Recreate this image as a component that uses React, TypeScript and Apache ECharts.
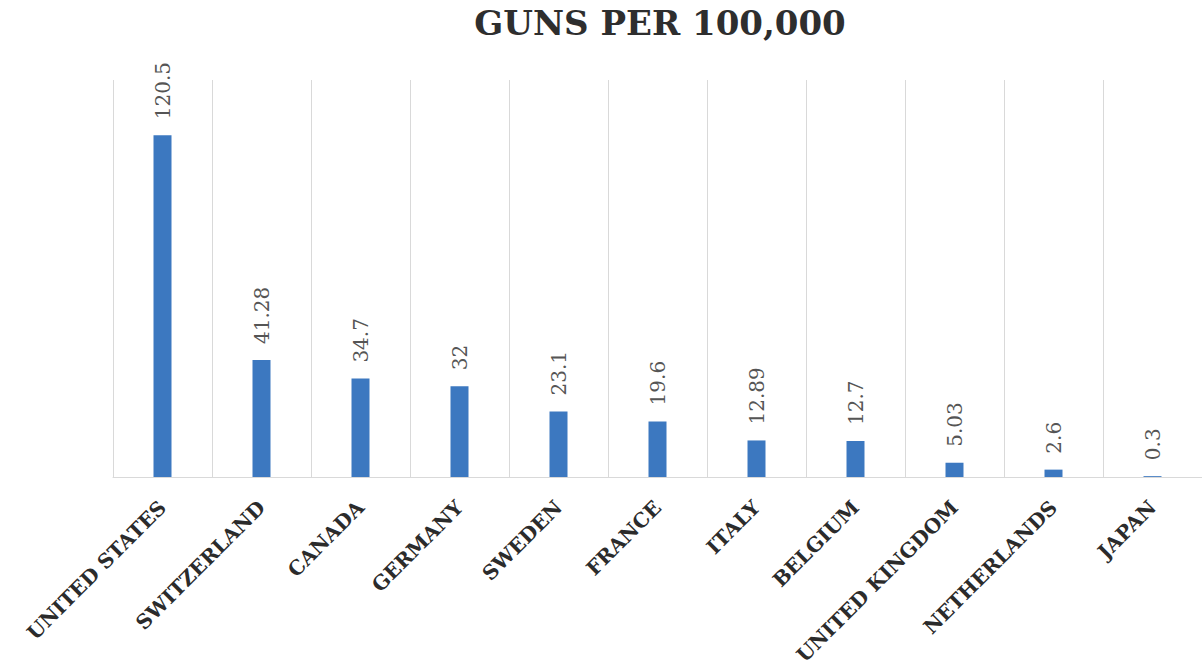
import React, { useEffect, useRef } from "react";
import * as echarts from "echarts";

const categories = [
  "UNITED STATES",
  "SWITZERLAND",
  "CANADA",
  "GERMANY",
  "SWEDEN",
  "FRANCE",
  "ITALY",
  "BELGIUM",
  "UNITED KINGDOM",
  "NETHERLANDS",
  "JAPAN",
];
const values = [120.5, 41.28, 34.7, 32, 23.1, 19.6, 12.89, 12.7, 5.03, 2.6, 0.3];
const titleText = "GUNS PER 100,000";

export default function App() {
  const ref = useRef<HTMLDivElement>(null);
  useEffect(() => {
    if (!ref.current) return;
    const chart = echarts.init(ref.current, undefined, { renderer: "svg" });
    chart.setOption({
      animation: false,
      backgroundColor: "#ffffff",
      title: {
        text: titleText,
        left: 655,
        textAlign: "center",
        top: 1,
        textStyle: {
          fontFamily: "DejaVu Serif",
          fontWeight: "bold",
          fontSize: 34,
          color: "#2e2e2e",
        },
      },
      grid: { left: 113, right: 0, top: 80, bottom: 194 },
      xAxis: {
        type: "category",
        data: categories,
        axisLine: { show: true, lineStyle: { color: "#d9d9d9", width: 1 } },
        axisTick: { show: false },
        splitLine: { show: true, lineStyle: { color: "#d9d9d9", width: 1 } },
        axisLabel: {
          rotate: 45,
          interval: 0,
          margin: 27,
          fontFamily: "DejaVu Serif",
          fontWeight: "bold",
          fontSize: 20,
          color: "#2b2b2b",
        },
      },
      yAxis: {
        type: "value",
        min: 0,
        max: 140,
        show: false,
        splitLine: { show: false },
      },
      series: [
        {
          type: "bar",
          data: values,
          barWidth: 18,
          itemStyle: { color: "#3C78C0" },
          label: {
            show: true,
            position: "top",
            distance: 16,
            rotate: 90,
            align: "left",
            verticalAlign: "middle",
            fontFamily: "DejaVu Serif",
            fontSize: 20,
            color: "#555555",
          },
        },
      ],
    });
    return () => chart.dispose();
  }, []);
  return (
    <div
      ref={ref}
      style={{ position: "fixed", left: 0, top: 0, width: 1202, height: 671 }}
    />
  );
}
